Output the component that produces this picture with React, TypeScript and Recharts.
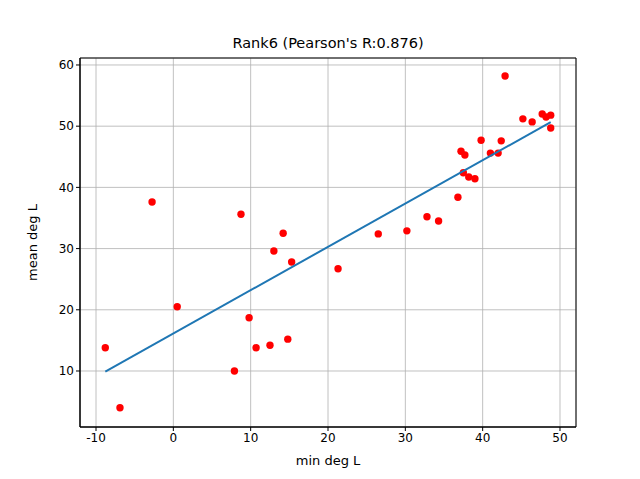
import { CartesianGrid, ReferenceArea, Scatter, ScatterChart, XAxis, YAxis, Label } from 'recharts';

const minDegL = [
  -8.8, -6.9, -2.75, 0.5, 7.9, 8.75, 9.8, 10.7, 12.5, 13.0, 14.2, 14.8, 15.3, 21.3, 26.5, 30.2,
  32.8, 34.3, 36.8, 37.2, 37.7, 37.5, 38.2, 39.0, 39.8, 41.0, 42.0, 42.4, 42.9, 45.2, 46.4,
  47.7, 48.2, 48.8, 48.8,
];
const meanDegL = [
  13.8, 4.0, 37.6, 20.5, 10.0, 35.6, 18.7, 13.8, 14.2, 29.6, 32.5, 15.2, 27.8, 26.7, 32.4, 32.9,
  35.2, 34.5, 38.4, 45.9, 45.3, 42.4, 41.7, 41.4, 47.7, 45.6, 45.6, 47.6, 58.2, 51.2, 50.7,
  52.0, 51.5, 51.8, 49.7,
];
const fitSlope = 0.7076;
const fitIntercept = 16.13;
const xTicks = [-10, 0, 10, 20, 30, 40, 50];
const yTicks = [10, 20, 30, 40, 50, 60];

const X_DOMAIN: [number, number] = [-12.07, 52.07];
const Y_DOMAIN: [number, number] = [0.85, 61.14];

const points = minDegL.map((x, i) => ({ x, y: meanDegL[i] }));
const xMin = Math.min(...minDegL);
const xMax = Math.max(...minDegL);
const fitLine = [xMin, xMax].map((x) => ({ x, y: fitIntercept + fitSlope * x }));

const font = '"DejaVu Sans", sans-serif';

export default function App() {
  return (
    <div style={{ position: 'fixed', left: 0, top: 0, width: 640, height: 479, background: '#fff', fontFamily: font }}>
      <div style={{ position: 'absolute', top: 35, left: 0, width: 656, textAlign: 'center', fontSize: 14.5 }}>
        Rank6 (Pearson's R:0.876)
      </div>
      <ScatterChart width={640} height={479} margin={{ top: 58, right: 64, bottom: 12, left: 30 }}>
        <CartesianGrid stroke="#b0b0b0" strokeWidth={0.8} />
        <ReferenceArea x1={X_DOMAIN[0]} x2={X_DOMAIN[1]} y1={Y_DOMAIN[0]} y2={Y_DOMAIN[1]} fill="none" stroke="#000" strokeWidth={1} />
        <XAxis
          type="number"
          dataKey="x"
          domain={X_DOMAIN}
          ticks={xTicks}
          allowDataOverflow
          height={40}
          stroke="#000"
          tick={{ fill: '#000', fontSize: 12, fontFamily: font }}
          tickSize={4}
        >
          <Label value="min deg L" position="insideBottom" offset={2} style={{ fill: '#000', fontSize: 13, fontFamily: font }} />
        </XAxis>
        <YAxis
          type="number"
          dataKey="y"
          domain={Y_DOMAIN}
          ticks={yTicks}
          allowDataOverflow
          width={50}
          stroke="#000"
          tick={{ fill: '#000', fontSize: 12, fontFamily: font }}
          tickSize={4}
        >
          <Label value="mean deg L" angle={-90} position="insideLeft" offset={2} style={{ fill: '#000', fontSize: 13, fontFamily: font, textAnchor: 'middle' }} />
        </YAxis>
        <Scatter data={points} fill="#ff0000" isAnimationActive={false}
          shape={(p: any) => <circle cx={p.cx} cy={p.cy} r={3.7} fill="#ff0000" />} />
        <Scatter data={fitLine} line={{ stroke: '#1f77b4', strokeWidth: 2 }} shape={() => <g />} isAnimationActive={false} />
      </ScatterChart>
    </div>
  );
}
